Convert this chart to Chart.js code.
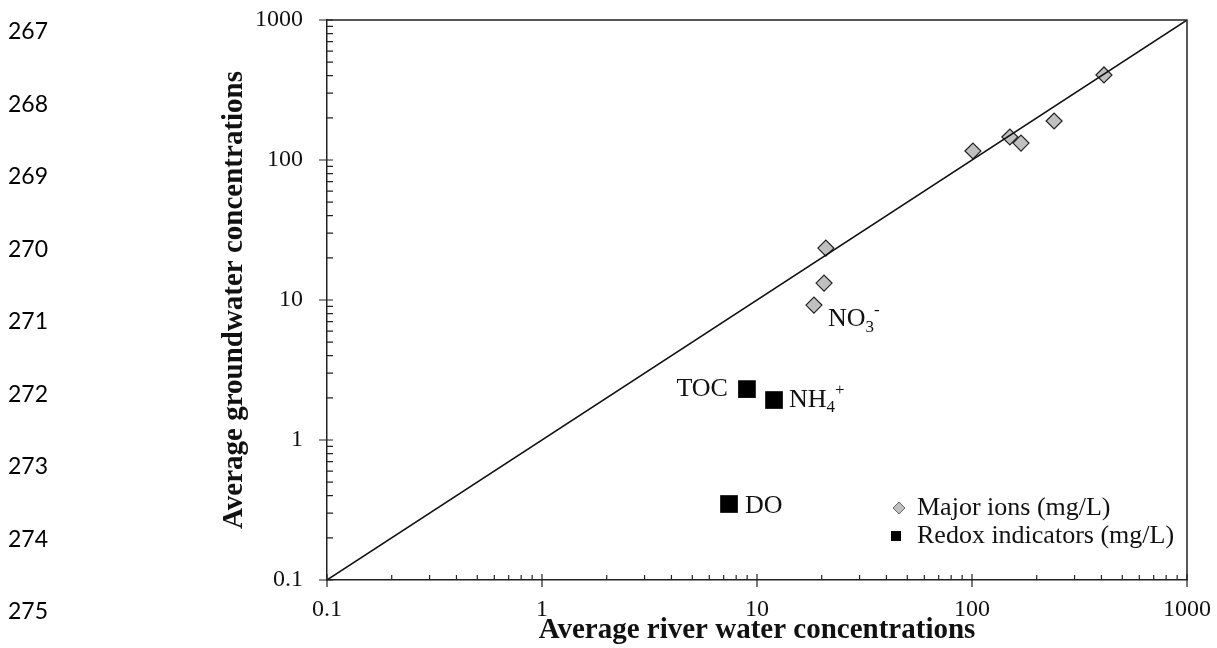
<!DOCTYPE html>
<html>
<head>
<meta charset="utf-8">
<script src="https://cdn.jsdelivr.net/npm/chart.js@4/dist/chart.umd.min.js"></script>
<style>
  body { margin: 0; background: #fff; }
  #wrap { width: 1217px; height: 648px; }
</style>
</head>
<body>
<div id="wrap"><canvas id="myChart" width="1217" height="648"></canvas></div>
<script>
// data
var majorRiver  = [411, 241, 169, 150, 101, 20.9, 20.5, 18.4];
var majorGround = [405, 190, 132, 146, 116, 23.5, 13.2, 9.2];
var redoxNames  = ['TOC', 'NH4+', 'DO'];
var redoxRiver  = [8.98, 12.0, 7.41];
var redoxGround = [2.31, 1.93, 0.349];
var oneToOne    = [0.1, 1000];
var decadeTicks = [0.1, 1, 10, 100, 1000];
var lineNumbers = [267, 268, 269, 270, 271, 272, 273, 274, 275];
var legendLabels = ['Major ions (mg/L)', 'Redox indicators (mg/L)'];

var serif = "'Liberation Serif', 'Times New Roman', serif";

function toPoints(xs, ys) {
    return xs.map(function (x, i) { return { x: x, y: ys[i] }; });
}

function isDecade(v) {
    var l = Math.log10(v);
    return Math.abs(l - Math.round(l)) < 1e-9;
}

// point labels: [dataset index, point index, parts, dx, dy, align]
var pointLabels = [
    [2, 0, [['TOC', 'n']], -19, 0, 'right'],
    [2, 1, [['NH', 'n'], ['4', 'sub'], ['+', 'sup']], 15, 0, 'left'],
    [2, 2, [['DO', 'n']], 16, 2, 'left'],
    [1, 7, [['NO', 'n'], ['3', 'sub'], ['-', 'sup']], 14, 14, 'left']
];

function drawParts(ctx, parts, x, y, align) {
    var big = '26px ' + serif, small = '17px ' + serif;
    var total = 0;
    parts.forEach(function (p) {
        ctx.font = p[1] === 'n' ? big : small;
        total += ctx.measureText(p[0]).width;
    });
    var cx = align === 'right' ? x - total : x;
    ctx.textAlign = 'left';
    ctx.textBaseline = 'middle';
    parts.forEach(function (p) {
        ctx.font = p[1] === 'n' ? big : small;
        var oy = p[1] === 'sub' ? 8 : (p[1] === 'sup' ? -9 : 0);
        ctx.fillText(p[0], cx, y + oy);
        cx += ctx.measureText(p[0]).width;
    });
}

var decorPlugin = {
    id: 'decor',
    afterDraw: function (chart) {
        var ctx = chart.ctx;
        var xs = chart.scales.x, ys = chart.scales.y, area = chart.chartArea;
        ctx.save();

        // frame top / right
        ctx.strokeStyle = '#222';
        ctx.lineWidth = 1.5;
        ctx.beginPath();
        ctx.moveTo(area.left, area.top);
        ctx.lineTo(area.right, area.top);
        ctx.lineTo(area.right, area.bottom);
        ctx.stroke();

        // tick marks: minor inside, major crossing
        ctx.lineWidth = 1.2;
        ctx.beginPath();
        for (var d = 0; d < decadeTicks.length; d++) {
            for (var k = 1; k <= 9; k++) {
                var v = decadeTicks[d] * k;
                if (v > xs.max + 1e-9) break;
                var px = xs.getPixelForValue(v);
                var py = ys.getPixelForValue(v);
                if (k === 1) {
                    ctx.moveTo(px, area.bottom - 6); ctx.lineTo(px, area.bottom + 7);
                    ctx.moveTo(area.left - 8, py); ctx.lineTo(area.left + 6, py);
                } else {
                    ctx.moveTo(px, area.bottom); ctx.lineTo(px, area.bottom - 5);
                    ctx.moveTo(area.left, py); ctx.lineTo(area.left + 6, py);
                }
            }
        }
        ctx.stroke();

        // point labels
        ctx.fillStyle = '#111';
        pointLabels.forEach(function (lb) {
            var el = chart.getDatasetMeta(lb[0]).data[lb[1]];
            drawParts(ctx, lb[2], el.x + lb[3], el.y + lb[4], lb[5]);
        });

        // legend inside plot, bottom right
        var lx = area.right - 270, ly1 = area.bottom - 72, ly2 = area.bottom - 44;
        ctx.fillStyle = '#c0c0c0';
        ctx.strokeStyle = '#666';
        ctx.lineWidth = 1;
        ctx.beginPath();
        ctx.moveTo(lx - 18, ly1 - 6); ctx.lineTo(lx - 12, ly1); ctx.lineTo(lx - 18, ly1 + 6); ctx.lineTo(lx - 24, ly1);
        ctx.closePath(); ctx.fill(); ctx.stroke();
        ctx.fillStyle = '#000';
        ctx.fillRect(lx - 26, ly2 - 5, 10, 10);
        ctx.font = '26px ' + serif;
        ctx.textAlign = 'left';
        ctx.textBaseline = 'middle';
        ctx.fillStyle = '#111';
        ctx.fillText(legendLabels[0], lx, ly1);
        ctx.fillText(legendLabels[1], lx, ly2);

        // manuscript line numbers
        ctx.font = "23px Lato, 'Open Sans', sans-serif";
        ctx.fillStyle = '#000';
        lineNumbers.forEach(function (n, i) {
            ctx.fillText(String(n), 8, 32 + i * 72.5);
        });
        ctx.restore();
    }
};

var ctx = document.getElementById('myChart').getContext('2d');
var chart = new Chart(ctx, {
    type: 'scatter',
    data: {
        datasets: [{
            type: 'line',
            label: '1:1',
            data: toPoints(oneToOne, oneToOne),
            borderColor: '#111',
            borderWidth: 1.5,
            pointRadius: 0,
            fill: false,
            order: 0
        }, {
            label: legendLabels[0],
            data: toPoints(majorRiver, majorGround),
            pointStyle: 'rectRot',
            pointRadius: 8,
            backgroundColor: '#c0c0c0',
            borderColor: '#222',
            borderWidth: 1.2,
            order: 1
        }, {
            label: legendLabels[1],
            data: toPoints(redoxRiver, redoxGround),
            pointStyle: 'rect',
            pointRadius: 12.5,
            backgroundColor: '#000',
            borderColor: '#000',
            borderWidth: 0,
            order: 1
        }]
    },
    options: {
        responsive: false,
        animation: false,
        layout: { padding: { left: 0, right: 30, top: 20, bottom: 0 } },
        plugins: { legend: { display: false }, tooltip: { enabled: false } },
        scales: {
            x: {
                type: 'logarithmic',
                min: 0.1,
                max: 1000,
                grid: { display: false, drawTicks: false },
                border: { display: true, color: '#222', width: 1.5 },
                ticks: {
                    autoSkip: false,
                    maxRotation: 0,
                    padding: 15,
                    color: '#111',
                    font: { family: serif, size: 24 },
                    callback: function (v) { return isDecade(v) ? String(v) : ''; }
                },
                title: {
                    display: true,
                    text: 'Average river water concentrations',
                    color: '#111',
                    font: { family: serif, size: 29, weight: 'bold' },
                    padding: { top: 0, bottom: 0 }
                },
                afterFit: function (s) {
                    s.height = 68;
                    s.paddingLeft = 0;
                    s.paddingRight = 0;
                }
            },
            y: {
                type: 'logarithmic',
                min: 0.1,
                max: 1000,
                grid: { display: false, drawTicks: false },
                border: { display: true, color: '#222', width: 1.5 },
                ticks: {
                    autoSkip: false,
                    padding: 24,
                    color: '#111',
                    font: { family: serif, size: 24 },
                    callback: function (v) { return isDecade(v) ? String(v) : ''; }
                },
                title: {
                    display: true,
                    text: 'Average groundwater concentrations',
                    color: '#111',
                    font: { family: serif, size: 29, weight: 'bold' },
                    padding: { top: 217, bottom: 0 }
                },
                afterFit: function (s) {
                    s.width = 327;
                    s.paddingTop = 0;
                    s.paddingBottom = 0;
                }
            }
        }
    },
    plugins: [decorPlugin]
});
</script>
</body>
</html>
